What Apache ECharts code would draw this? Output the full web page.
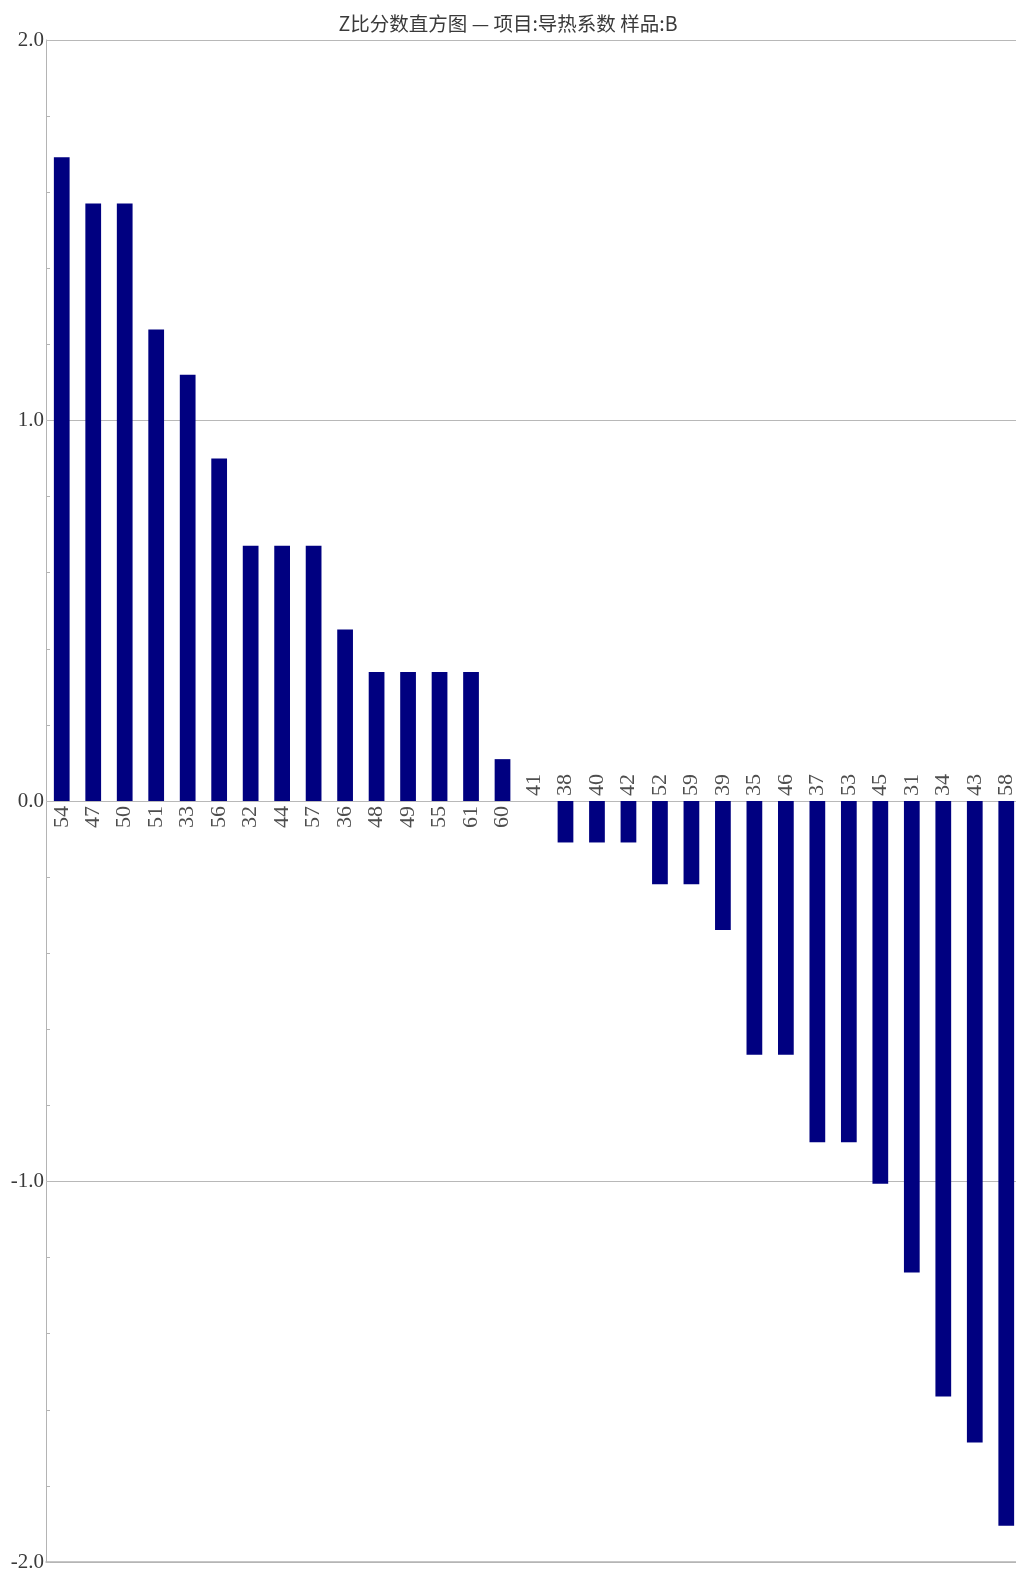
<!DOCTYPE html>
<html>
<head>
<meta charset="utf-8">
<title>Z比分数直方图</title>
<script src="https://cdn.jsdelivr.net/npm/echarts@6/dist/echarts.min.js"></script>
<style>
  html, body { margin: 0; padding: 0; background: #ffffff; }
  #chart { width: 1016px; height: 1572px; }
</style>
</head>
<body>
<div id="chart"></div>
<script>
// Lab codes, sorted by Z-score (descending)
const labCodes = ['54','47','50','51','33','56','32','44','57','36','48','49','55','61','60',
                  '41','38','40','42','52','59','39','35','46','37','53','45','31','34','43','58'];
// Z-score per lab
const zScores = [1.692, 1.570, 1.570, 1.239, 1.120, 0.900, 0.671, 0.671, 0.671, 0.451,
                 0.339, 0.339, 0.339, 0.339, 0.110,
                 0.000, -0.109, -0.109, -0.109, -0.219, -0.219, -0.339, -0.667, -0.667,
                 -0.897, -0.897, -1.006, -1.239, -1.565, -1.686, -1.905];
// Value axis ticks
const yTicks = [-2.0, -1.0, 0.0, 1.0, 2.0];

const titleText = 'Z比分数直方图 — 项目:导热系数 样品:B';
const numFont = '"Liberation Serif", "DejaVu Serif", serif';

// Lab code labels sit on the zero line, on the side opposite to the bar
const codeLabels = labCodes.map((code, i) => {
  const up = zScores[i] <= 0;
  return {
    value: [i, 0],
    label: {
      show: true,
      formatter: code,
      position: up ? 'top' : 'bottom',
      distance: 4,
      rotate: 90,
      align: up ? 'left' : 'right',
      verticalAlign: 'middle'
    }
  };
});

const chart = echarts.init(document.getElementById('chart'), null, { renderer: 'canvas' });

chart.setOption({
  backgroundColor: '#ffffff',
  animation: false,
  title: {
    text: titleText,
    left: 'center',
    top: 9,
    textStyle: {
      fontFamily: '"Noto Sans CJK SC", sans-serif',
      fontSize: 19.5,
      fontWeight: 'normal',
      color: '#3a3a3a'
    }
  },
  grid: { left: 46, top: 40, bottom: 10, right: -6, containLabel: false, outerBoundsMode: 'none' },
  xAxis: {
    type: 'category',
    data: labCodes,
    position: 'bottom',
    axisLine: { show: true, onZero: false, lineStyle: { color: '#b4b4b4', width: 1.5 } },
    axisTick: { show: false },
    axisLabel: { show: false },
    splitLine: { show: false }
  },
  yAxis: {
    type: 'value',
    min: yTicks[0],
    max: yTicks[yTicks.length - 1],
    interval: 1,
    axisLine: { show: true, lineStyle: { color: '#b4b4b4', width: 1 } },
    axisTick: { show: true, inside: true, length: 4, lineStyle: { color: '#bdbdbd' } },
    minorTick: { show: true, splitNumber: 5, length: 4, lineStyle: { color: '#b4b4b4' } },
    splitLine: { show: true, lineStyle: { color: '#b8b8b8', width: 1.2 } },
    axisLabel: {
      margin: 2,
      fontFamily: numFont,
      fontSize: 21,
      color: '#3a3a3a',
      formatter: v => v.toFixed(1)
    }
  },
  series: [
    {
      type: 'bar',
      data: zScores,
      barWidth: '50%',
      itemStyle: { color: '#000080' },
      z: 2
    },
    {
      type: 'scatter',
      data: codeLabels,
      symbol: 'rect',
      symbolSize: 2,
      silent: true,
      itemStyle: { color: 'rgba(0,0,0,0)' },
      label: {
        fontFamily: numFont,
        fontSize: 22,
        color: '#222222'
      },
      z: 3
    }
  ]
});
</script>
</body>
</html>
